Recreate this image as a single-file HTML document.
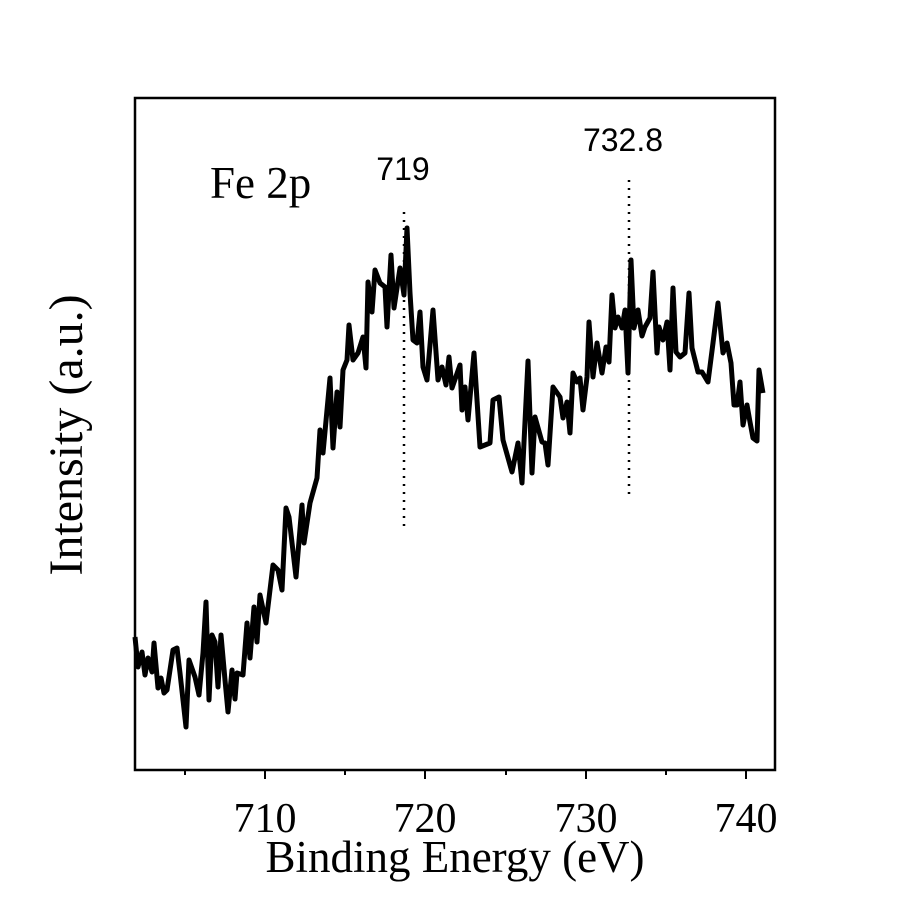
<!DOCTYPE html><html><head><style>body{margin:0;background:#fff}</style></head><body>
<svg width="900" height="900" xmlns="http://www.w3.org/2000/svg">
<rect width="900" height="900" fill="#fff"/>
<rect x="135" y="98" width="640" height="672" fill="none" stroke="#000" stroke-width="2.5"/>
<g stroke="#000" stroke-width="2">
<line x1="265" y1="770" x2="265" y2="779"/><line x1="425" y1="770" x2="425" y2="779"/><line x1="586" y1="770" x2="586" y2="779"/><line x1="746" y1="770" x2="746" y2="779"/>
<line x1="185" y1="770" x2="185" y2="775"/><line x1="345" y1="770" x2="345" y2="775"/><line x1="506" y1="770" x2="506" y2="775"/><line x1="666" y1="770" x2="666" y2="775"/>
</g>
<g font-family="Liberation Serif, serif" font-size="42" text-anchor="middle">
<text x="265" y="832">710</text><text x="425" y="832">720</text><text x="586" y="832">730</text><text x="746" y="832">740</text>
</g>
<text x="455" y="872" font-family="Liberation Serif, serif" font-size="45" text-anchor="middle">Binding Energy (eV)</text>
<text transform="translate(82,435) rotate(-90)" font-family="Liberation Serif, serif" font-size="48" text-anchor="middle">Intensity (a.u.)</text>
<text x="210" y="198" font-family="Liberation Serif, serif" font-size="45">Fe 2p</text>
<text x="403" y="180" font-family="Liberation Sans, sans-serif" font-size="32" text-anchor="middle">719</text>
<text x="623" y="151" font-family="Liberation Sans, sans-serif" font-size="32" text-anchor="middle">732.8</text>
<g stroke="#000" stroke-width="2.5" stroke-dasharray="2,6">
<line x1="404" y1="212" x2="404" y2="530"/><line x1="629" y1="180" x2="629" y2="500"/>
</g>
<polyline fill="none" stroke="#000" stroke-width="5" stroke-linejoin="round" points="135,637 138,667 142,652 145,675 148,658 152,672 154,643 158,688 161,678 164,693 167,690 173,650 177,648 180,673 186,727 189,660 195,677 199,695 203,653 206,602 209,700 212,635 215,642 218,687 221,635 225,680 228,712 232,670 235,699 237,673 243,675 247,623 250,658 254,607 257,642 260,595 266,623 273,565 278,570 282,590 286,508 289,517 296,577 302,505 304,543 310,503 317,478 320,430 323,453 330,378 333,448 337,392 340,427 343,370 347,360 349,325 353,360 358,353 363,337 366,368 368,282 372,312 375,270 380,283 385,287 387,327 391,255 394,308 400,268 404,295 407,228 410,293 413,340 417,343 420,312 423,367 427,380 433,310 438,380 442,367 446,385 449,357 452,388 460,365 462,410 465,387 468,420 474,353 480,447 490,443 493,400 499,397 503,440 512,472 518,443 522,483 528,361 532,473 535,417 542,442 545,443 548,465 553,387 560,397 563,418 567,402 570,433 573,373 577,382 580,378 583,410 587,377 589,322 593,377 597,343 602,373 606,347 609,362 612,295 615,328 618,317 622,328 625,310 628,373 631,260 634,328 638,310 642,336 645,327 650,318 653,272 657,353 659,327 663,340 667,322 670,370 673,288 676,352 680,357 685,353 689,293 692,348 698,372 702,372 708,382 713,343 718,303 723,353 727,343 731,363 734,405 737,405 740,382 743,425 747,405 750,422 753,438 757,441 759,370 763,393"/>
</svg>
</body></html>
